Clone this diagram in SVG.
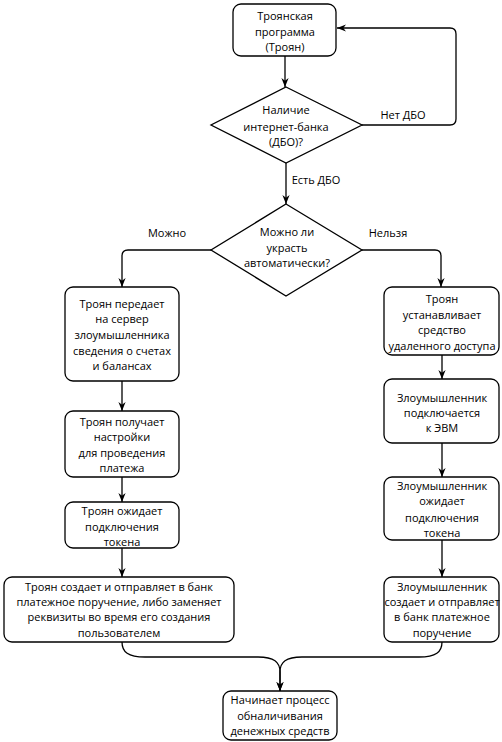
<svg xmlns="http://www.w3.org/2000/svg" width="502" height="742" viewBox="0 0 502 742">
<defs>
<marker id="arr" viewBox="0 0 10 10" refX="10" refY="5" markerWidth="9" markerHeight="9" markerUnits="userSpaceOnUse" orient="auto">
<path d="M0,1 L10,5 L0,9 L3,5 z" fill="#000"/>
</marker>
<style>
.n{fill:#fff;stroke:#000;stroke-width:1.3}
.t{font-family:"Open Sans","DejaVu Sans",sans-serif;font-size:11px;fill:#000;text-anchor:middle}
.c{fill:none;stroke:#000;stroke-width:1.3;marker-end:url(#arr)}
</style>
</defs>
<rect width="502" height="742" fill="#fff"/>
<g id="connectors">
<path class="c" d="M285,56 L285,87"/>
<path class="c" d="M362,125 L450,125 Q456,125 456,119 L456,34 Q456,28 450,28 L337,28"/>
<path class="c" d="M286,163 L286,204"/>
<path class="c" d="M211,250 L128,250 Q122,250 122,256 L122,287"/>
<path class="c" d="M362,250 L435,250 Q441,250 441,256 L441,287"/>
<path class="c" d="M122,381 L122,411"/>
<path class="c" d="M122,477 L122,502"/>
<path class="c" d="M122,548 L122,577"/>
<path class="c" d="M442,355 L442,379"/>
<path class="c" d="M442,443 L442,477"/>
<path class="c" d="M442,540 L442,577"/>
<path class="c" d="M122,642 C122,652 128,657 145,657 L258,657 C274,657 280,662 280,672 L280,691"/>
<path class="c" d="M442,642 C442,652 436,657 419,657 L302,657 C286,657 280,662 280,672 L280,691"/>
</g>
<g id="start">
<rect class="n" x="233" y="4" width="103" height="52" rx="8"/>
<text class="t" x="285" y="20">Троянская</text>
<text class="t" x="285" y="36">программа</text>
<text class="t" x="285" y="51">(Троян)</text>
</g>
<g id="dbo">
<path class="n" d="M286,87 L362,125 L286,163 L211,125 z"/>
<text class="t" x="286" y="114">Наличие</text>
<text class="t" x="286" y="131">интернет-банка</text>
<text class="t" x="286" y="146">(ДБО)?</text>
</g>
<g id="lbl-no"><text class="t" x="403" y="119">Нет ДБО</text></g>
<g id="lbl-yes"><text class="t" x="316" y="184">Есть ДБО</text></g>
<g id="auto">
<path class="n" d="M286,204 L362,250 L286,296 L211,250 z"/>
<text class="t" x="287" y="236">Можно ли</text>
<text class="t" x="287" y="252">украсть</text>
<text class="t" x="287" y="267">автоматически?</text>
</g>
<g id="lbl-can"><text class="t" x="167" y="237">Можно</text></g>
<g id="lbl-cannot"><text class="t" x="388" y="237">Нельзя</text></g>
<g id="l1">
<rect class="n" x="65" y="287" width="114" height="94" rx="8"/>
<text class="t" x="122" y="308">Троян передает</text>
<text class="t" x="122" y="323">на сервер</text>
<text class="t" x="122" y="339">злоумышленника</text>
<text class="t" x="122" y="355">сведения о счетах</text>
<text class="t" x="122" y="370">и балансах</text>
</g>
<g id="l2">
<rect class="n" x="65" y="411" width="114" height="66" rx="8"/>
<text class="t" x="122" y="426">Троян получает</text>
<text class="t" x="122" y="441">настройки</text>
<text class="t" x="122" y="457">для проведения</text>
<text class="t" x="122" y="472">платежа</text>
</g>
<g id="l3">
<rect class="n" x="65" y="502" width="114" height="46" rx="8"/>
<text class="t" x="122" y="515">Троян ожидает</text>
<text class="t" x="122" y="531">подключения</text>
<text class="t" x="122" y="546">токена</text>
</g>
<g id="l4">
<rect class="n" x="4" y="577" width="230" height="65" rx="8"/>
<text class="t" x="119" y="591">Троян создает и отправляет в банк</text>
<text class="t" x="119" y="606">платежное поручение, либо заменяет</text>
<text class="t" x="119" y="621">реквизиты во время его создания</text>
<text class="t" x="119" y="637">пользователем</text>
</g>
<g id="r1">
<rect class="n" x="384" y="287" width="115" height="68" rx="8"/>
<text class="t" x="442" y="303">Троян</text>
<text class="t" x="442" y="319">устанавливает</text>
<text class="t" x="442" y="334">средство</text>
<text class="t" x="442" y="350">удаленного доступа</text>
</g>
<g id="r2">
<rect class="n" x="384" y="379" width="115" height="64" rx="8"/>
<text class="t" x="442" y="402">Злоумышленник</text>
<text class="t" x="442" y="417">подключается</text>
<text class="t" x="442" y="432">к ЭВМ</text>
</g>
<g id="r3">
<rect class="n" x="384" y="477" width="115" height="63" rx="8"/>
<text class="t" x="442" y="490">Злоумышленник</text>
<text class="t" x="442" y="505">ожидает</text>
<text class="t" x="442" y="522">подключения</text>
<text class="t" x="442" y="537">токена</text>
</g>
<g id="r4">
<rect class="n" x="384" y="577" width="115" height="65" rx="8"/>
<text class="t" x="442" y="591">Злоумышленник</text>
<text class="t" x="442" y="606">создает и отправляет</text>
<text class="t" x="442" y="621">в банк платежное</text>
<text class="t" x="442" y="637">поручение</text>
</g>
<g id="end">
<rect class="n" x="223" y="691" width="114" height="49" rx="8"/>
<text class="t" x="280" y="704">Начинает процесс</text>
<text class="t" x="280" y="720">обналичивания</text>
<text class="t" x="280" y="735">денежных средств</text>
</g>
</svg>
